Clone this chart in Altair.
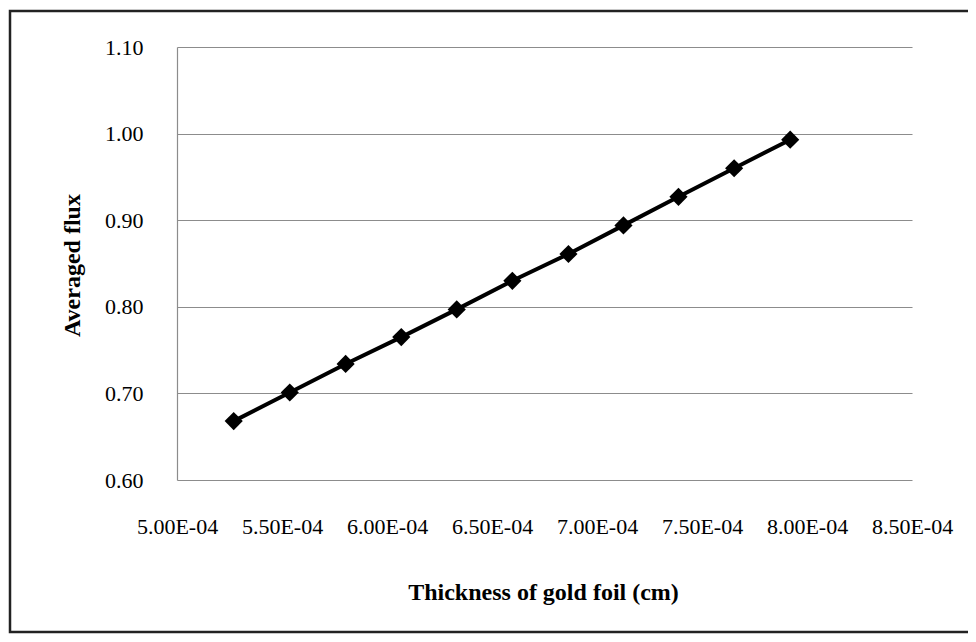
import altair as alt
import pandas as pd

thickness = [5.270e-4, 5.537e-4, 5.803e-4, 6.068e-4, 6.332e-4, 6.597e-4,
             6.864e-4, 7.126e-4, 7.388e-4, 7.653e-4, 7.920e-4]
flux = [0.668, 0.701, 0.734, 0.765, 0.797, 0.830, 0.861, 0.894, 0.927, 0.960, 0.993]
x_ticks = [5.0e-4, 5.5e-4, 6.0e-4, 6.5e-4, 7.0e-4, 7.5e-4, 8.0e-4, 8.5e-4]
y_ticks = [0.6, 0.7, 0.8, 0.9, 1.0, 1.1]

df = pd.DataFrame({"t": thickness, "f": flux})

W, H = 735, 433
FONT = "Liberation Serif"

x_enc = alt.X("t:Q", scale=alt.Scale(domain=[5.0e-4, 8.5e-4], nice=False, zero=False),
              axis=alt.Axis(values=x_ticks, labelExpr="format(datum.value*1e4, '.2f') + 'E-04'",
                            title="Thickness of gold foil (cm)", grid=False, ticks=False,
                            domain=False, labelOverlap=False, labelFont=FONT, labelFontSize=22,
                            labelColor="#000", labelPadding=36, labelFlush=False,
                            titleFont=FONT, titleFontSize=24,
                            titleFontWeight="bold", titleColor="#000",
                            titleX=366, titleY=112, titleBaseline="middle", titleAlign="center"))
y_enc = alt.Y("f:Q", scale=alt.Scale(domain=[0.6, 1.1], nice=False, zero=False),
              axis=alt.Axis(values=y_ticks, format=".2f", title="Averaged flux", grid=True,
                            gridColor="#8c8c8c", gridWidth=1.2, ticks=False,
                            domainColor="#8c8c8c", domainWidth=1.2, labelOverlap=False,
                            labelFlush=False,
                            labelFont=FONT, labelFontSize=22, labelColor="#000",
                            labelPadding=34, titleFont=FONT, titleFontSize=24,
                            titleFontWeight="bold", titleColor="#000",
                            titleX=-105, titleY=218, titleAngle=-90,
                            titleBaseline="middle", titleAlign="center"))

base = alt.Chart(df)
line = base.mark_line(color="#000", strokeWidth=4).encode(x=x_enc, y=y_enc)
pts = base.mark_point(shape="diamond", filled=True, color="#000", size=330, opacity=1).encode(x="t:Q", y="f:Q")

frame = alt.Chart(pd.DataFrame({"a": [0]})).mark_rect(
    fill=None, stroke="#222", strokeWidth=2.5, clip=False
).encode(x=alt.value(-167), x2=alt.value(820), y=alt.value(-36), y2=alt.value(585))

chart = alt.layer(frame, line, pts).properties(
    width=W, height=H,
    autosize=alt.AutoSizeParams(type="none"),
    padding={"left": 169, "top": 39, "right": 56, "bottom": 154},
    background="white",
).configure_view(stroke="transparent", strokeWidth=0)

chart.save("out.html", embed_options={"renderer": "svg", "actions": False})
